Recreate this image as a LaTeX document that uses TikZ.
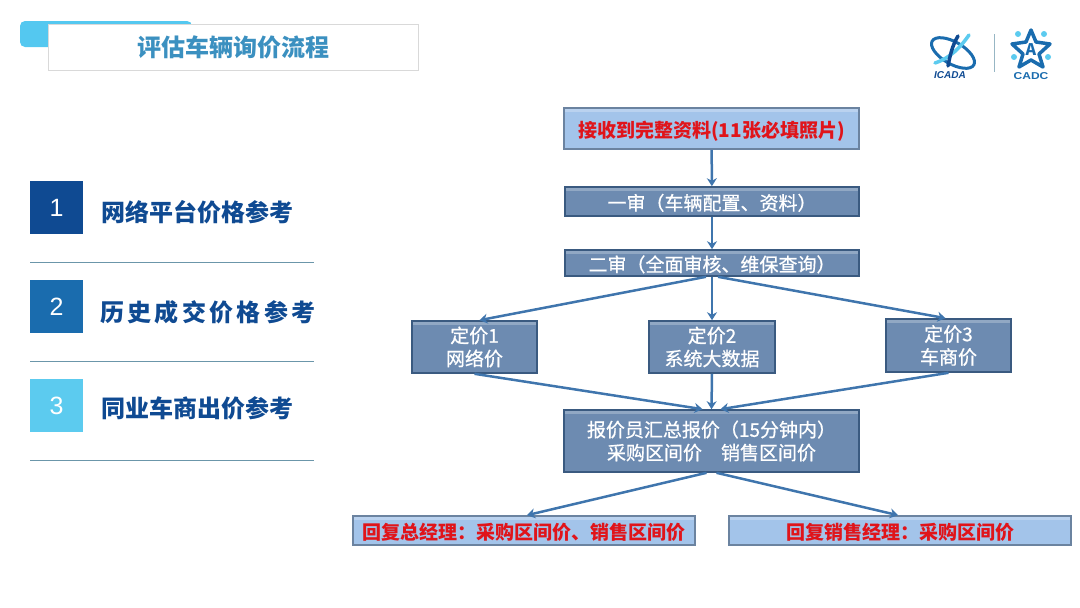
\documentclass[tikz,border=0pt]{standalone}
\usepackage{fontspec}
\usetikzlibrary{arrows.meta}
\setmainfont{Noto Sans CJK SC}
\newfontfamily\widefont{Noto Sans CJK SC}[LetterSpace=14]
\newfontfamily\flowfont{Noto Sans CJK SC}[FakeBold=0.7]
\newfontfamily\numfont{Liberation Sans}
\definecolor{tabcyan}{HTML}{54C8F0}
\definecolor{titleblue}{HTML}{3B90C0}
\definecolor{navy}{HTML}{0F4A92}
\definecolor{midblue}{HTML}{1A6CAE}
\definecolor{skyblue}{HTML}{5CCBEF}
\definecolor{rulecol}{HTML}{6B96AA}
\definecolor{darkbox}{HTML}{6D8BB1}
\definecolor{lightbox}{HTML}{A3C4EA}
\definecolor{edgebox}{HTML}{3A5A80}
\definecolor{arrowcol}{HTML}{3F75AD}
\definecolor{redtext}{HTML}{E0141A}
\tikzset{
    flowbox/.style = {shape = rectangle, draw = edgebox, line width = 1.6pt, inner sep = 0pt, align = center,
        path picture = {\fill [white, opacity = 0.25] (path picture bounding box.north west) rectangle ([yshift = -4pt]path picture bounding box.north east);}},
    darkflow/.style = {flowbox, fill = darkbox, text = white, font = \fontsize{19}{23}\flowfont},
    lightflow/.style = {flowbox, fill = lightbox, draw = edgebox!75, text = redtext, font = \fontsize{19}{23}\selectfont\bfseries},
    numbox/.style = {shape = rectangle, minimum width = 53pt, minimum height = 53pt, inner sep = 0pt, text = white, font = \fontsize{25}{25}\numfont},
    itemtext/.style = {anchor = west, inner sep = 0pt, text = navy, font = \fontsize{24}{28}\selectfont\bfseries},
    flowarrow/.style = {draw = arrowcol, line width = 2.5pt, -{Stealth[length = 8pt, width = 10pt]}}
}
\begin{document}
\begin{tikzpicture}[x = 1pt, y = -1pt]
    \useasboundingbox (0,0) rectangle (1080,608);

    \fill [tabcyan, rounded corners = 5pt] (20,47) -- (20,21) -- (192,21) -- (192,47) -- cycle;
    \node (Title) [shape = rectangle, draw = black!15, fill = white, minimum width = 370pt, minimum height = 46pt, text = titleblue, font = \fontsize{24}{28}\selectfont\bfseries] at (233,47) {评估车辆询价流程};

    \node (N1) [numbox, fill = navy] at (56.5,207.5) {1};
    \node (N2) [numbox, fill = midblue] at (56.5,306.5) {2};
    \node (N3) [numbox, fill = skyblue] at (56.5,405.5) {3};
    \node (T1) [itemtext] at (101,212) {网络平台价格参考};
    \node (T2) [itemtext, font = \fontsize{24}{28}\widefont\bfseries] at (100,312) {历史成交价格参考};
    \node (T3) [itemtext] at (101,408) {同业车商出价参考};
    \draw [rulecol, line width = 1pt] (30,262) -- (314,262);
    \draw [rulecol, line width = 1pt] (30,361) -- (314,361);
    \draw [rulecol, line width = 1pt] (30,460) -- (314,460);

    \node (A) [lightflow, minimum width = 295pt, minimum height = 41pt, text height = 21pt] at (711.5,128.5) {接收到完整资料(11张必填照片)};
    \node (B) [darkflow, minimum width = 294pt, minimum height = 29pt, text height = 19pt] at (712,201.5) {一审（车辆配置、资料）};
    \node (C) [darkflow, minimum width = 294pt, minimum height = 26pt, text height = 19pt] at (712,263) {二审（全面审核、维保查询）};
    \node (P1) [darkflow, minimum width = 125pt, minimum height = 52pt] at (474.5,347) {定价1\\网络价};
    \node (P2) [darkflow, minimum width = 126pt, minimum height = 52pt] at (712,347) {定价2\\系统大数据};
    \node (P3) [darkflow, minimum width = 125pt, minimum height = 53pt] at (948.5,345.5) {定价3\\车商价};
    \node (D) [darkflow, minimum width = 295pt, minimum height = 62pt] at (711.5,441) {报价员汇总报价（15分钟内）\\采购区间价\quad 销售区间价};
    \node (E) [lightflow, minimum width = 342pt, minimum height = 29pt, text height = 19pt] at (524,530.5) {回复总经理：采购区间价、销售区间价};
    \node (F) [lightflow, minimum width = 342pt, minimum height = 29pt, text height = 19pt] at (900,530.5) {回复销售经理：采购区间价};

    \draw [flowarrow] (A) -- (B);
    \draw [flowarrow] (B) -- (C);
    \draw [flowarrow] ([xshift = -6pt]C.south) -- ([xshift = 5pt]P1.north);
    \draw [flowarrow] (C.south) -- (P2.north);
    \draw [flowarrow] ([xshift = 6pt]C.south) -- ([xshift = -3pt]P3.north);
    \draw [flowarrow] (P1.south) -- ([xshift = -9pt]D.north);
    \draw [flowarrow] (P2.south) -- (D.north);
    \draw [flowarrow] (P3.south) -- ([xshift = 9pt]D.north);
    \draw [flowarrow] ([xshift = -5pt]D.south) -- ([xshift = 3pt]E.north);
    \draw [flowarrow] ([xshift = 5pt]D.south) -- ([xshift = -2pt]F.north);

    \draw [rulecol!70, line width = 1pt] (994,34) -- (994,72);
    \draw [midblue, line width = 3pt, rotate around = {-30:(953,53)}] (953,53) ellipse [x radius = 24pt, y radius = 11pt];
    \draw [skyblue, line width = 3.5pt, line cap = round] (935,63) .. controls (950,58) and (960,48) .. (969,35);
    \draw [navy, line width = 3.5pt, line cap = round] (958,36) .. controls (952,46) and (950,56) .. (948,66);
    \node (LogoL) [inner sep = 0pt, text = navy, font = \fontsize{10}{10}\numfont\bfseries\itshape] at (950,75) {ICADA};
    \draw [midblue, line width = 3.5pt, line join = round] (1031,30) -- (1036,42) -- (1050,44) -- (1039,54) -- (1043,67) -- (1031,60) -- (1019,67) -- (1023,54) -- (1012,44) -- (1026,42) -- cycle;
    \fill [skyblue] (1018,34) circle [radius = 3pt] (1044,34) circle [radius = 3pt] (1014,57) circle [radius = 3pt] (1048,57) circle [radius = 3pt];
    \node (LogoA) [inner sep = 0pt, text = midblue, font = \fontsize{16}{16}\selectfont\bfseries] at (1031,50) {A};
    \node (LogoR) [inner sep = 0pt, text = midblue, font = \fontsize{10}{10}\numfont\bfseries, xscale = 1.2] at (1031,76) {CADC};
\end{tikzpicture}
\end{document}
